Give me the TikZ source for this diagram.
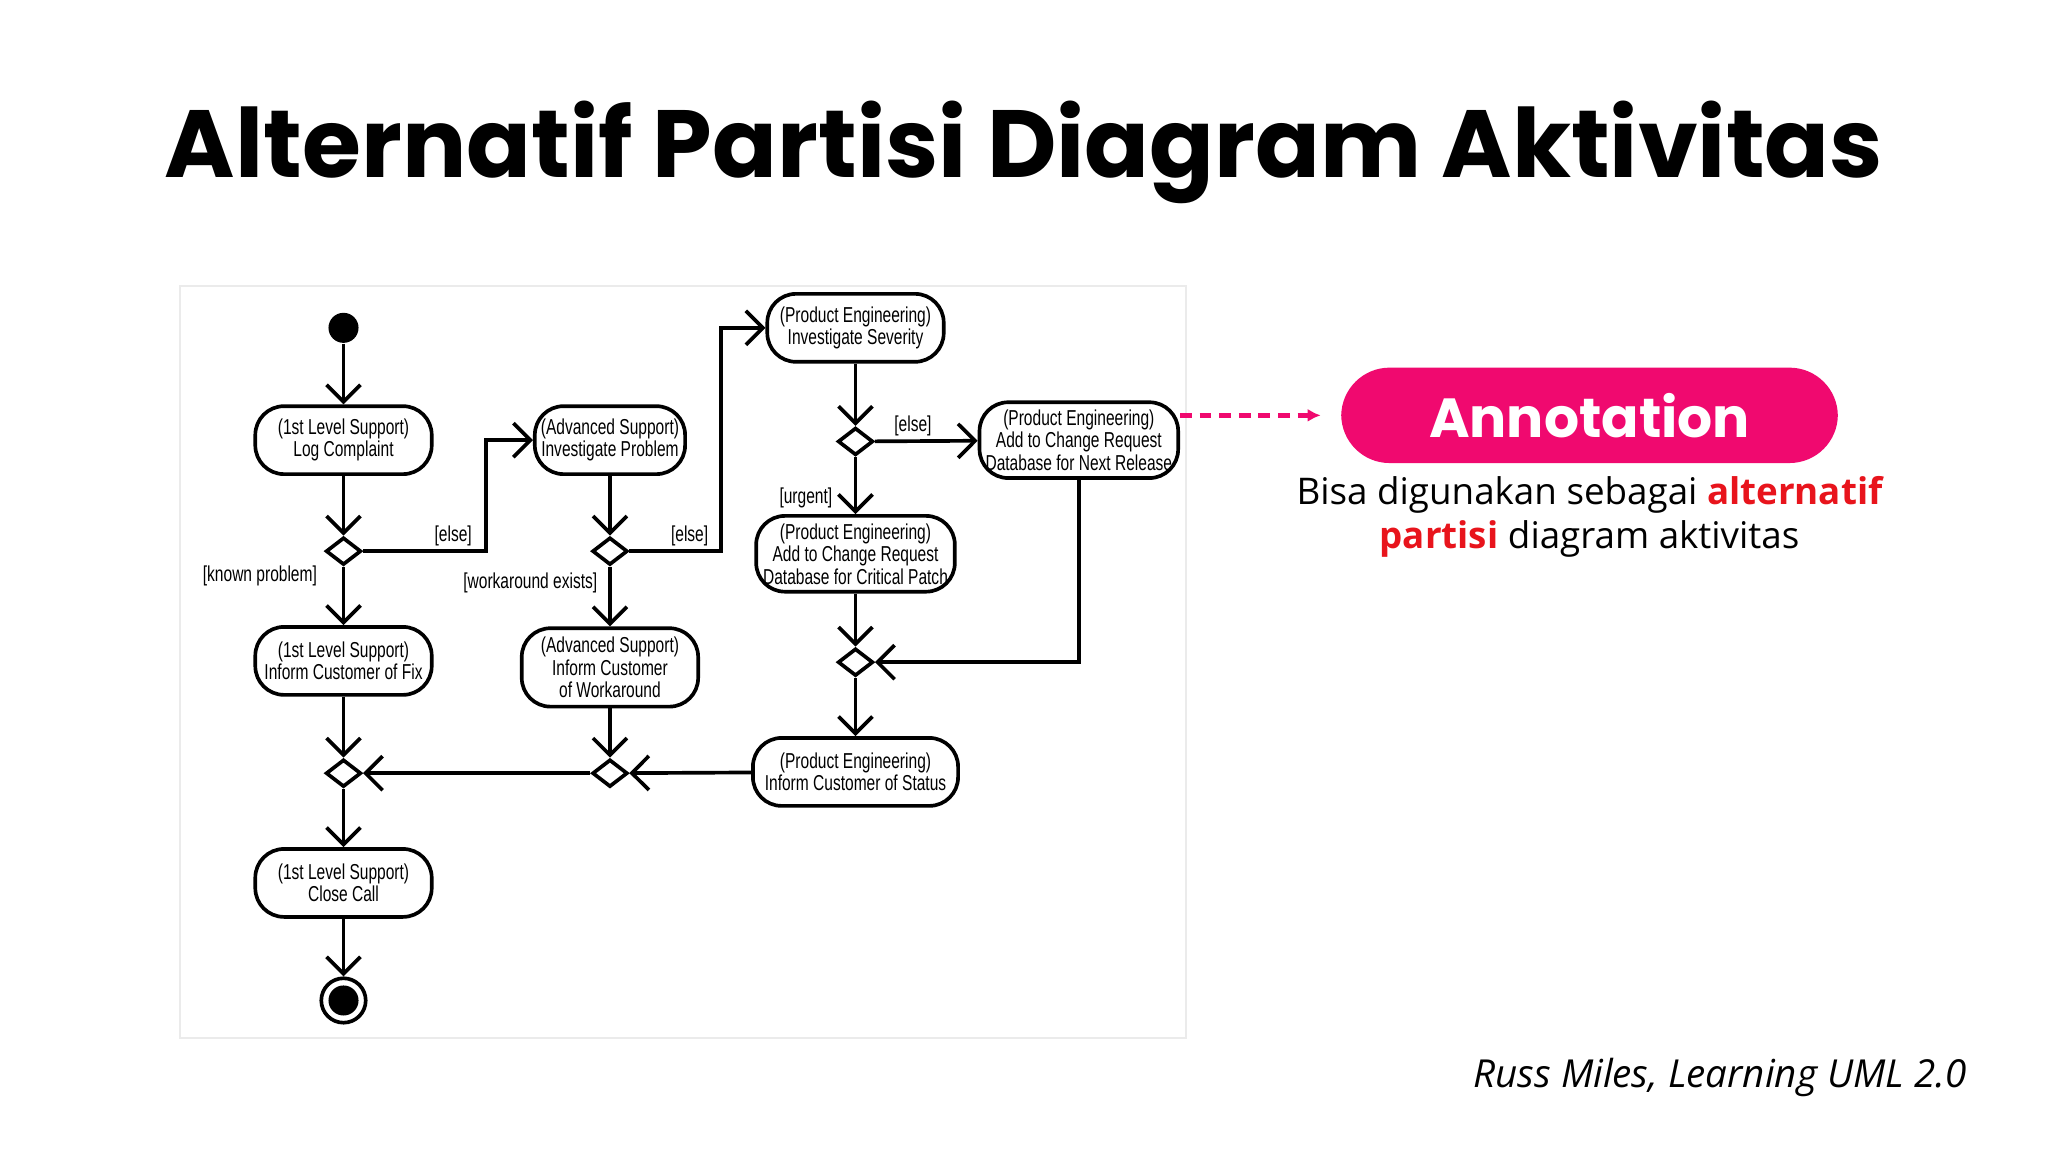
\documentclass[tikz,border=0pt]{standalone}
\usepackage{fontspec}
\setmainfont{Poppins}
\newfontfamily\cond[FakeStretch=0.72]{Liberation Sans}
\newfontfamily\body{Open Sans}
\usetikzlibrary{arrows.meta,shapes.geometric}
\definecolor{pinkA}{HTML}{F0096F}
\definecolor{redT}{HTML}{E8141C}
\tikzset{
 act/.style={draw,thick,rounded corners=2.2mm,align=center,font=\cond\fontsize{4.7pt}{4.9pt}\selectfont,inner sep=1pt},
 dec/.style={draw,thick,diamond,aspect=1.25,minimum width=0.27cm,minimum height=0.21cm,inner sep=0pt,fill=white},
 flow/.style={thick,-{Straight Barb[length=0.13cm,width=0.26cm]}},
 lbl/.style={font=\cond\fontsize{4.7pt}{5pt}\selectfont,inner sep=0pt},
}
\begin{document}
\begin{tikzpicture}[x=0.01cm,y=-0.01cm]
\useasboundingbox (0,0) rectangle (1568,882);
\fill[white] (0,0) rectangle (1568,882);
\node[font=\bfseries\fontsize{20.8pt}{24pt}\selectfont] (title) at (784,117) {Alternatif Partisi Diagram Aktivitas};
\draw[black!8] (138,219) rectangle (908,795);
% nodes
\node[circle,fill,inner sep=0pt,minimum size=0.23cm] (start) at (263,251) {};
\node[act,minimum width=1.35cm,minimum height=0.52cm] (A) at (263,337) {(1st Level Support)\\Log Complaint};
\node[dec] (D1) at (263,422) {};
\node[act,minimum width=1.15cm,minimum height=0.52cm] (B) at (467,337) {(Advanced Support)\\Investigate Problem};
\node[dec] (D2) at (467,422) {};
\node[act,minimum width=1.35cm,minimum height=0.52cm] (C) at (263,506) {(1st Level Support)\\Inform Customer of Fix};
\node[act,minimum width=1.35cm,minimum height=0.6cm] (D) at (467,511) {(Advanced Support)\\Inform Customer\\of Workaround};
\node[act,minimum width=1.35cm,minimum height=0.52cm] (E) at (655,251) {(Product Engineering)\\Investigate Severity};
\node[dec] (D3) at (655,338) {};
\node[act,minimum width=1.52cm,minimum height=0.58cm] (F) at (826,337) {(Product Engineering)\\Add to Change Request\\Database for Next Release};
\node[act,minimum width=1.52cm,minimum height=0.58cm] (G) at (655,424) {(Product Engineering)\\Add to Change Request\\Database for Critical Patch};
\node[dec] (D4) at (655,507) {};
\node[act,minimum width=1.57cm,minimum height=0.52cm] (H) at (655,591) {(Product Engineering)\\Inform Customer of Status};
\node[dec] (D5) at (467,592) {};
\node[dec] (D6) at (263,592) {};
\node[act,minimum width=1.35cm,minimum height=0.52cm] (I) at (263,676) {(1st Level Support)\\Close Call};
\node[circle,draw,thick,inner sep=0pt,minimum size=0.34cm] (endo) at (263,766) {};
\node[circle,fill,inner sep=0pt,minimum size=0.23cm] (endi) at (263,766) {};
% edges
\draw[flow] (start) -- (A);
\draw[flow] (A) -- (D1);
\draw[flow] (D1.east) -- (372,422) -- (372,337) -- (B.west);
\draw[flow] (D1) -- (C);
\draw[flow] (B) -- (D2);
\draw[flow] (D2.east) -- (552,422) -- (552,251) -- (E.west);
\draw[flow] (D2) -- (D);
\draw[flow] (E) -- (D3);
\draw[flow] (D3) -- (F);
\draw[flow] (D3) -- (G);
\draw[flow] (G) -- (D4);
\draw[flow] (F.south) -- (826,507) -- (D4.east);
\draw[flow] (D4) -- (H);
\draw[flow] (H) -- (D5);
\draw[flow] (D5) -- (D6);
\draw[flow] (C) -- (D6);
\draw[flow] (D) -- (D5);
\draw[flow] (D6) -- (I);
\draw[flow] (I) -- (endo);
% labels
\node[lbl] (l1) at (347,410) {[else]};
\node[lbl] (l2) at (199,441) {[known problem]};
\node[lbl] (l3) at (528,410) {[else]};
\node[lbl] (l4) at (406,446) {[workaround exists]};
\node[lbl] (l5) at (699,326) {[else]};
\node[lbl] (l6) at (617,381) {[urgent]};
% annotation
\node[fill=pinkA,rounded corners=0.37cm,minimum width=3.8cm,minimum height=0.73cm,text=white,font=\bfseries\fontsize{12pt}{14pt}\selectfont] (ann) at (1217,318) {Annotation};
\draw[pinkA,line width=1.2pt,dash pattern=on 0.09cm off 0.06cm,-{Latex[length=0.1cm,width=0.1cm]},shorten >=0.15cm] (F.east |- ann.west) -- (ann.west);
\node[align=center,font=\body\fontsize{8pt}{9.6pt}\selectfont] (txt) at (1217,396) {Bisa digunakan sebagai \textcolor{redT}{\bfseries alternatif}\\\textcolor{redT}{\bfseries partisi} diagram aktivitas};
\node[anchor=east,font=\body\itshape\fontsize{8.4pt}{9pt}\selectfont] (cite) at (1518,825) {Russ Miles, Learning UML 2.0};
\end{tikzpicture}
\end{document}
